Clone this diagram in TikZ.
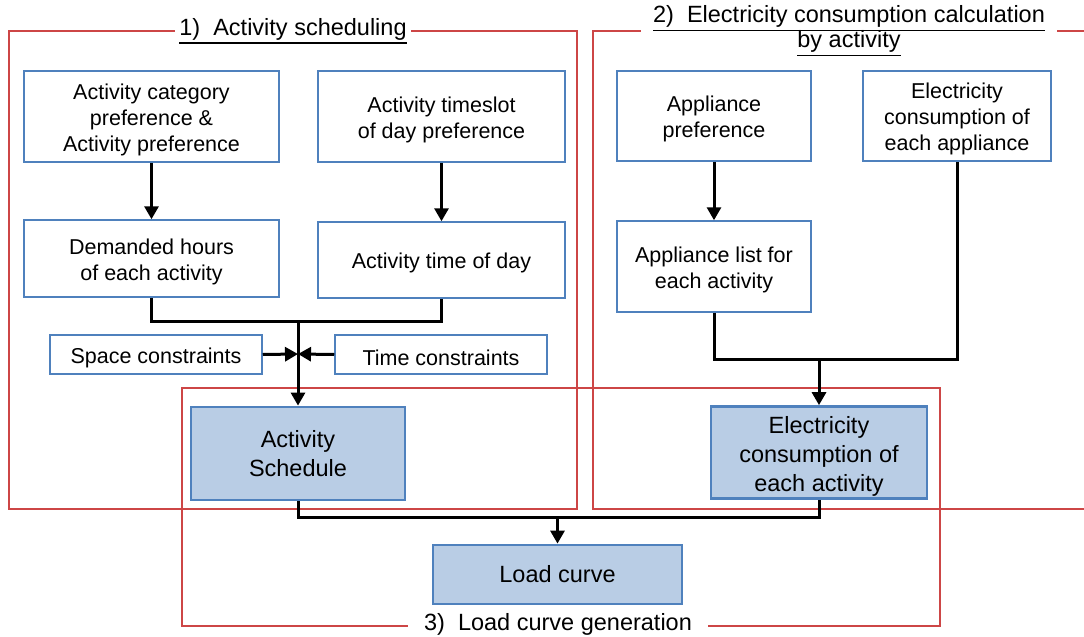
\documentclass[tikz,border=0pt]{standalone}
\usepackage{fontspec}
\setmainfont{Liberation Sans}
\usetikzlibrary{arrows.meta}
\definecolor{boxblue}{RGB}{79,129,189}
\definecolor{boxfill}{RGB}{185,205,229}
\definecolor{framered}{RGB}{205,70,70}
% underline with a heavier rule
\newcommand\ulin[1]{\leavevmode\vtop{\hbox{#1}\kern2pt\hrule height 1.7pt}}
% invisible strut that lowers the text block in its box
\newcommand\lowr[1]{\rule{0pt}{#1}}
\tikzset{
  x=1pt, y=-1pt,
  inbox/.style={draw=boxblue, line width=1.5pt, fill=white, align=center,
    inner sep=2pt, font=\fontsize{21.5}{26}\selectfont},
  outbox/.style={draw=boxblue, line width=2.8pt, fill=boxfill, align=center,
    inner sep=2pt, font=\fontsize{23.5}{29}\selectfont},
  secframe/.style={draw=framered, line width=1.3pt},
  ftitle/.style={fill=white, align=center, inner ysep=0pt,
    font=\fontsize{23.5}{27}\selectfont},
  conn/.style={draw=black, line width=3pt, line join=miter},
  arr/.style={conn, -{Triangle[length=13pt,width=14pt]}},
}
\begin{document}
\begin{tikzpicture}
\useasboundingbox (0,0) rectangle (1084,637);
\clip (0,0) rectangle (1084,637);

% section frames
\draw[secframe] (9,31) rectangle (577,509);
\draw[secframe] (593,31) rectangle (1100,509);
\draw[secframe] (182,388) rectangle (940,626);

\node[ftitle, minimum width=236pt] (t1) at (293,31) {\ulin{1)\ \ Activity scheduling}};
\node[ftitle, minimum width=416pt] (t2) at (849,31) {\ulin{2)\ \ Electricity consumption calculation}\\[-2pt]\ulin{by activity}};
\node[ftitle, minimum width=300pt] (t3) at (558,626) {\ulin{3)\ \ Load curve generation}};

% 1) activity scheduling
\node[inbox, minimum width=255pt, minimum height=91pt] (a1) at (151.5,116.5)
  {\lowr{22pt}Activity category\\preference \&\\Activity preference};
\node[inbox, minimum width=247pt, minimum height=91pt] (a2) at (441.5,116.5)
  {\lowr{22pt}Activity timeslot\\of day preference};
\node[inbox, minimum width=255pt, minimum height=77pt] (b1) at (151.5,258.5)
  {\lowr{22pt}Demanded hours\\of each activity};
\node[inbox, minimum width=247pt, minimum height=76pt] (b2) at (441.5,260)
  {\lowr{22pt}Activity time of day};
\node[inbox, minimum width=212pt, minimum height=39pt] (sp) at (156,354.5)
  {\lowr{22pt}Space constraints};
\node[inbox, minimum width=212pt, minimum height=39pt] (tc) at (441,354.5)
  {\lowr{22pt}Time constraints};

% 2) electricity consumption
\node[inbox, minimum width=194pt, minimum height=90pt] (ap) at (714,116)
  {\lowr{22pt}Appliance\\preference};
\node[inbox, minimum width=188pt, minimum height=90pt] (ea) at (957,116)
  {\lowr{22pt}Electricity\\consumption of\\each appliance};
\node[inbox, minimum width=194pt, minimum height=91pt] (al) at (714,266.5)
  {\lowr{22pt}Appliance list for\\each activity};

% 3) results
\node[outbox, minimum width=214pt, minimum height=93pt] (sched) at (298,453.5)
  {Activity\\Schedule};
\node[outbox, minimum width=216pt, minimum height=91pt] (ec) at (819,452.5)
  {\lowr{25pt}Electricity\\consumption of\\each activity};
\node[outbox, minimum width=249pt, minimum height=59pt] (lc) at (557.5,574.5)
  {Load curve};

% connectors
\draw[arr] (a1.south) -- (b1.north);
\draw[arr] (a2.south) -- (b2.north);
\draw[arr] (ap.south) -- (al.north);

\coordinate (j1) at (298,321);
\coordinate (jc) at (298,354);
\draw[conn] (b1.south) |- (j1) -| (b2.south);
\draw[arr] (j1) -- (sched.north);
\draw[arr] (sp.east) -- (jc);
\draw[arr] (tc.west) -- (jc);

\coordinate (j2) at (819,359);
\draw[conn] (al.south) |- (j2) -| (ea.south);
\draw[arr] (j2) -- (ec.north);

\coordinate (j3) at (557.5,517);
\draw[conn] (sched.south) |- (j3) -| (ec.south);
\draw[arr] (j3) -- (lc.north);
\end{tikzpicture}
\end{document}
